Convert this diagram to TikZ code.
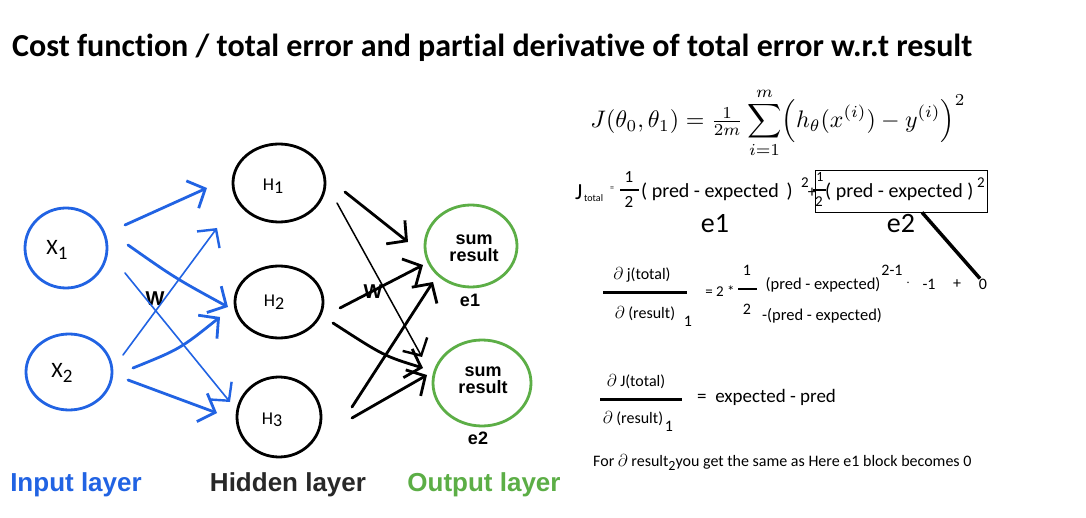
\documentclass[tikz,border=0pt]{standalone}
\usepackage{fontspec}
\setmainfont{Carlito}[Ligatures=NoCommon]
\newfontfamily\arialf{Liberation Sans}
\usetikzlibrary{arrows.meta,shapes.geometric,calc}
\definecolor{nnblue}{RGB}{33,99,227}
\definecolor{nngreen}{RGB}{92,174,70}
\definecolor{nngray}{RGB}{40,40,40}
\newcommand{\fsz}[1]{\fontsize{#1}{#1}\selectfont}
\begin{document}
\begin{tikzpicture}[x=1pt,y=-1pt,
  neuron/.style={ellipse, draw, line width=2.8pt, inner sep=0pt},
  lab/.style={inner sep=0pt},
  bthick/.style={nnblue, line width=2.8pt, line cap=round, -{Straight Barb[length=14pt,width=30pt,line width=2.8pt]}},
  bthin/.style={nnblue, line width=1.6pt, line cap=round, -{Straight Barb[length=13pt,width=28pt,line width=2.4pt]}},
  kthick/.style={black, line width=2.8pt, line cap=round, -{Straight Barb[length=14pt,width=30pt,line width=2.8pt]}},
  kthin/.style={black, line width=1.5pt, line cap=round, -{Straight Barb[length=13pt,width=28pt,line width=2.4pt]}},
  fracbar/.style={line width=2.6pt},
]
\useasboundingbox (0,0) rectangle (1086,518);
\fill[white] (0,0) rectangle (1086,518);

% title
\node[anchor=base west, lab] (title) at (12,57) {\resizebox{960pt}{!}{\bfseries\fsz{30}Cost function / total error and partial derivative of total error w.r.t result}};

% neurons
\node[neuron, nnblue, minimum width=82pt, minimum height=80pt] (x1) at (66,248) {};
\node[neuron, nnblue, minimum width=86pt, minimum height=76pt] (x2) at (69,372) {};
\node[neuron, minimum width=92pt, minimum height=78pt] (h1) at (279,183) {};
\node[neuron, minimum width=88pt, minimum height=72pt] (h2) at (279,302) {};
\node[neuron, minimum width=84pt, minimum height=80pt] (h3) at (279,417) {};
\node[neuron, nngreen, minimum width=92pt, minimum height=82pt] (o1) at (471,246) {};
\node[neuron, nngreen, minimum width=98pt, minimum height=86pt] (o2) at (482,383) {};

% neuron labels
\node[lab, font=\fsz{22}] (x1l) at (57,250) {X\raisebox{-5pt}{\fsz{19}1}};
\node[lab, font=\fsz{22}] (x2l) at (62,373) {X\raisebox{-5pt}{\fsz{19}2}};
\node[lab, font=\fsz{18}] (h1l) at (273,186) {H\raisebox{-3pt}{1}};
\node[lab, font=\fsz{18}] (h2l) at (274,302) {H\raisebox{-3pt}{2}};
\node[lab, font=\fsz{18}] (h3l) at (272,420) {H\raisebox{-2pt}{3}};
\node[lab, font=\arialf\bfseries\fsz{18}, align=center] (o1l) at (474,248) {sum\\[-1pt]result};
\node[lab, font=\arialf\bfseries\fsz{18}, align=center] (o2l) at (483,380) {sum\\[-1pt]result};
\node[lab, font=\arialf\bfseries\fsz{18}] (e1l) at (470,300) {e1};
\node[lab, font=\arialf\bfseries\fsz{18}] (e2l) at (478,438) {e2};
\node[lab, font=\arialf\bfseries\fsz{20}] (w1) at (155,299) {W};
\node[lab, font=\arialf\bfseries\fsz{20}] (w2) at (373,292) {W};

% layer labels
\node[lab, font=\arialf\bfseries\fsz{26}, text=nnblue] (inl) at (76,485) {Input layer};
\node[lab, font=\arialf\bfseries\fsz{26}, text=nngray] (hil) at (288,485) {Hidden layer};
\node[lab, font=\arialf\bfseries\fsz{26}, text=nngreen] (oul) at (484,485) {Output layer};

% input -> hidden
\draw[bthick] ($(x1)+(59,-23)$) -- ($(h1)+(-72,5)$);
\draw[bthick] ($(x1)+(62,-3)$) .. controls (175,278) .. ($(h2)+(-51,5)$);
\draw[bthin] ($(x1)+(59,25)$) -- ($(h3)+(-49,-15)$);
\draw[bthin] ($(x2)+(54,-17)$) -- ($(h1)+(-62,45)$);
\draw[bthick] ($(x2)+(64,-4)$) .. controls (180,349) .. ($(h2)+(-59,15)$);
\draw[bthick] ($(x2)+(59,8)$) -- ($(h3)+(-62,-4)$);

% hidden -> output
\draw[kthick] ($(h1)+(66,9)$) -- ($(o1)+(-63,-4)$);
\draw[kthin] ($(h1)+(58,20)$) -- ($(o2)+(-60,-26)$);
\draw[kthick] ($(h2)+(61,6)$) -- ($(o1)+(-48,19)$);
\draw[kthick] ($(h2)+(54,21)$) .. controls (384,356) .. ($(o2)+(-59,-15)$);
\draw[kthick] ($(h3)+(73,-10)$) -- ($(o1)+(-38,36)$);
\draw[kthick] ($(h3)+(73,1)$) -- ($(o2)+(-55,-8)$);

% cost function
\node[lab] (costf) at (778,123) {\resizebox{375pt}{!}{$\displaystyle J(\theta_0,\theta_1)={\textstyle\frac{1}{2m}}\sum_{i=1}^{m}\Bigl(h_\theta(x^{(i)})-y^{(i)}\Bigr)^2$}};

% J total line
\node[anchor=base west, lab, font=\fsz{23}] (Jt) at (575,200) {J};
\node[anchor=base west, lab, font=\fsz{10}] (Jsub) at (584,202) {total};
\node[lab, font=\fsz{8}] (Jeq) at (612,189) {=};
\node[lab, font=\fsz{17}] (fa1) at (629,177) {1};
\node[lab, font=\fsz{17}] (fa2) at (629,202) {2};
\draw[fracbar] (620,190) -- (639,190);
\node[anchor=base west, lab, font=\fsz{20}] (pe1) at (641,198) {( pred - expected \,)};
\node[lab, font=\fsz{15}] (sq1) at (805,183) {2};
\node[lab, font=\fsz{17}] (plus1) at (812,193) {+};
\node[draw, line width=0.8pt, minimum width=172pt, minimum height=42pt, inner sep=0pt] (boxe2) at (901,191) {};
\node[lab, font=\fsz{14}] (fb1) at (820,177) {1};
\node[lab, font=\fsz{15}] (fb2) at (819,202) {2};
\draw[fracbar] (813,190) -- (826,190);
\node[anchor=base west, lab, font=\fsz{20}] (pe2) at (825,198) {( pred - expected )};
\node[lab, font=\fsz{15}] (sq2) at (981,183) {2};
\node[lab, font=\fsz{28}] (e1) at (715,224) {e1};
\node[lab, font=\fsz{28}] (e2) at (901,224) {e2};

% derivative 1
\node[lab, font=\fsz{16}] (num1) at (642,275) {$\partial$ j(total)};
\draw[fracbar, line width=3pt] (603,293) -- (687,293);
\node[lab, font=\fsz{16}] (den1) at (645,314) {$\partial$ (result)};
\node[lab, font=\fsz{16}] (den1s) at (688,321) {1};
\node[lab, font=\fsz{15}] (eq2) at (720,291) {= 2 *};
\node[lab, font=\fsz{16}] (fc1) at (747,270) {1};
\node[lab, font=\fsz{16}] (fc2) at (747,309) {2};
\draw[fracbar] (738,289) -- (757,289);
\node[lab, font=\fsz{16.5}] (pe3) at (823,285) {(pred - expected)};
\node[lab, font=\fsz{16}] (pw) at (892,270) {2-1};
\node[lab, font=\fsz{14}] (dot) at (908,283) {$\cdot$};
\node[lab, font=\fsz{16}] (m1) at (929,284) {-1};
\node[lab, font=\fsz{16}] (plus2) at (957,284) {+};
\node[lab, font=\fsz{16}] (zero) at (983,284) {0};
\node[lab, font=\fsz{16.5}] (pe4) at (822,316) {-(pred - expected)};
\draw[line width=3.5pt] ($(boxe2.south)+(21,0)$) -- ($(zero.north)+(-3,0)$);

% derivative 2
\node[lab, font=\fsz{16}] (num2) at (636,382) {$\partial$ J(total)};
\draw[fracbar, line width=3pt] (600,399) -- (682,399);
\node[lab, font=\fsz{16}] (den2) at (633,419) {$\partial$ (result)};
\node[lab, font=\fsz{16}] (den2s) at (669,426) {1};
\node[anchor=west, lab, font=\fsz{19}] (res2) at (697,397) {= \ expected - pred};

% final line
\node[anchor=base west, lab, font=\fsz{16}] (fin) at (593,466) {For $\partial$ result\raisebox{-4pt}{\fsz{14}2}you get the same as Here e1 block becomes 0};
\end{tikzpicture}
\end{document}
